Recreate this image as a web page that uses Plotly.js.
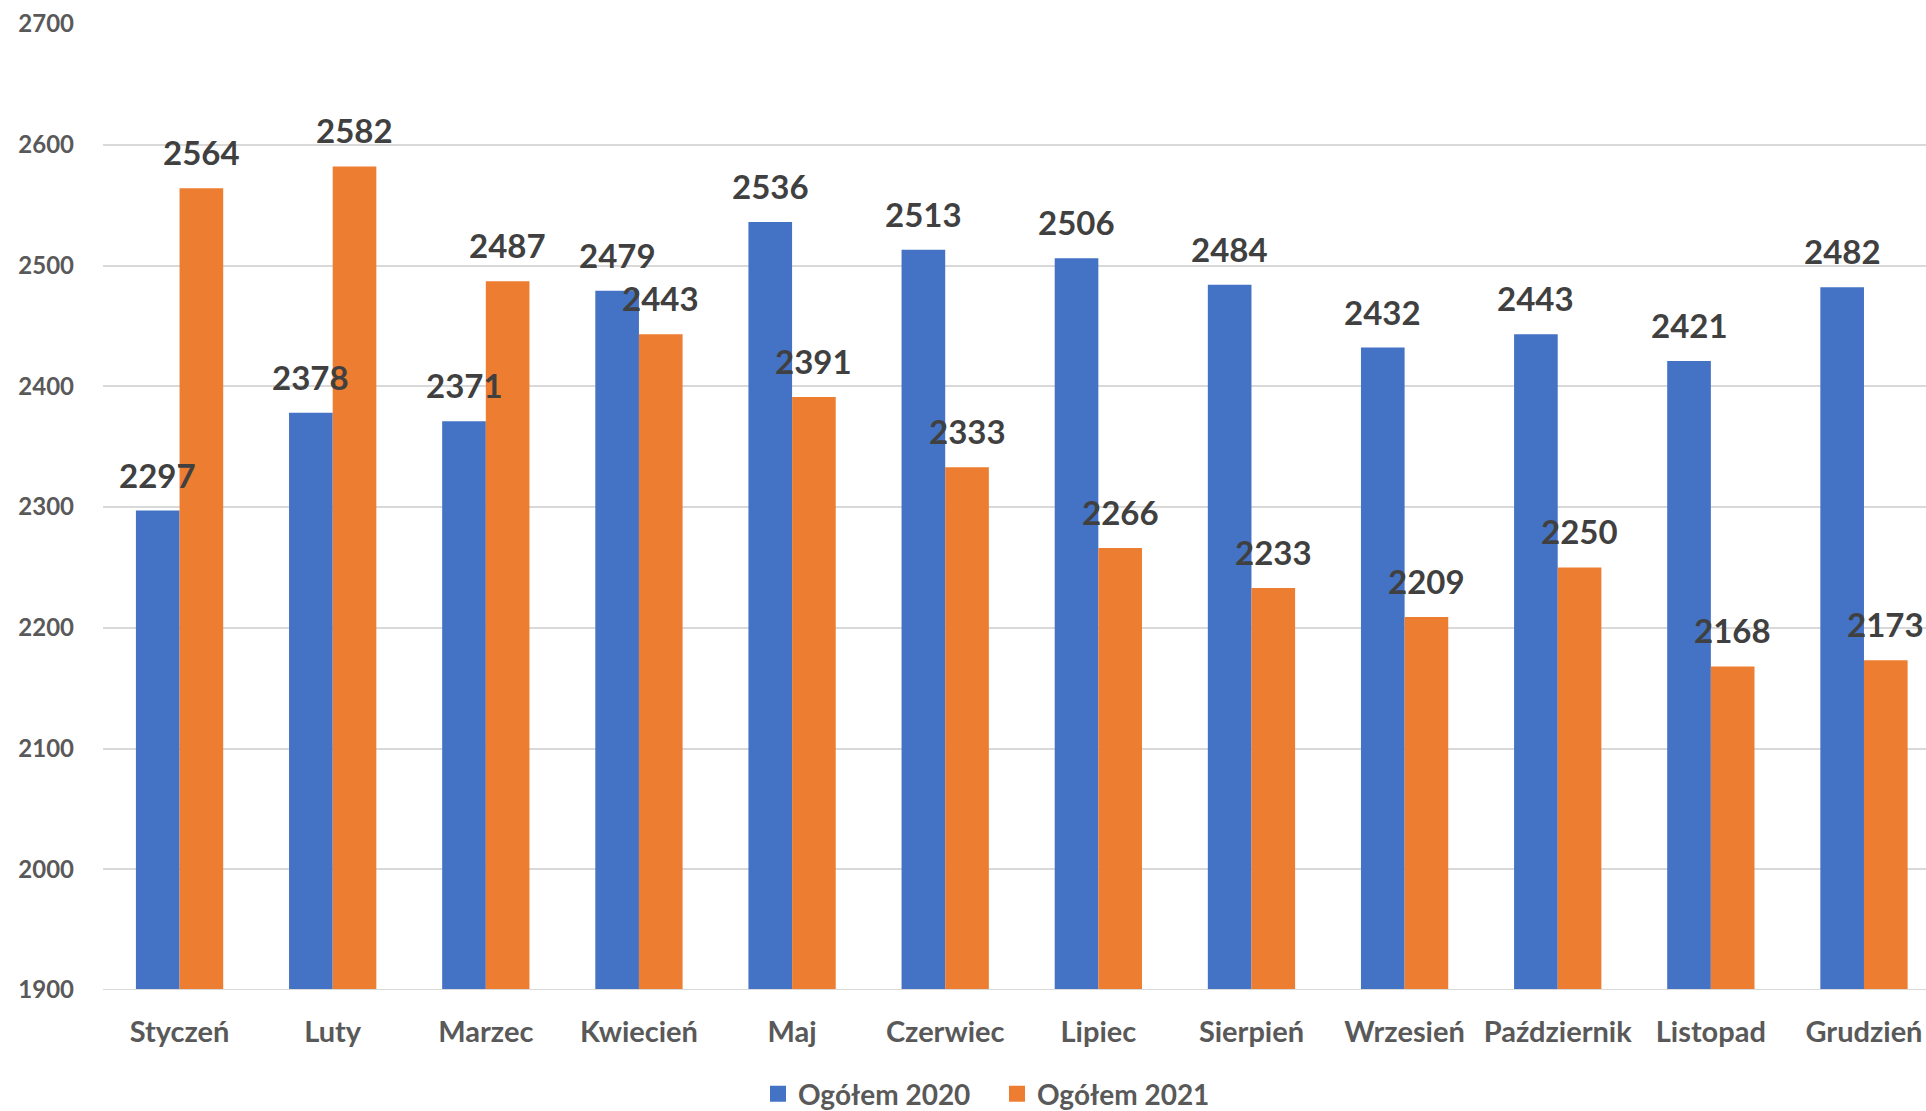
<!DOCTYPE html>
<html>
<head>
<meta charset="utf-8">
<script src="https://cdn.plot.ly/plotly-3.0.1.min.js"></script>
<style>html,body{margin:0;padding:0;background:#fff;}#chart{width:1926px;height:1111px;}</style>
</head>
<body>
<div id="chart"></div>
<script>
const months = ["Styczeń","Luty","Marzec","Kwiecień","Maj","Czerwiec","Lipiec","Sierpień","Wrzesień","Październik","Listopad","Grudzień"];
const values2020 = [2297,2378,2371,2479,2536,2513,2506,2484,2432,2443,2421,2482];
const values2021 = [2564,2582,2487,2443,2391,2333,2266,2233,2209,2250,2168,2173];
const seriesNames = ["Ogółem 2020","Ogółem 2021"];
const seriesColors = ['#4472C4','#ED7D31'];
const yTicks = [1900,2000,2100,2200,2300,2400,2500,2600,2700];

const FONT = "Lato, 'Open Sans', sans-serif";
const BAR_PX = 43.6;

const traces = [
  {type:'bar', name:seriesNames[0], x:months, y:values2020, marker:{color:seriesColors[0]}, hoverinfo:'x+y', showlegend:false},
  {type:'bar', name:seriesNames[1], x:months, y:values2021, marker:{color:seriesColors[1]}, hoverinfo:'x+y', showlegend:false},
  {type:'scatter', mode:'markers', name:seriesNames[0], x:[null], y:[null], marker:{symbol:'square', size:17, color:seriesColors[0]}, showlegend:true, hoverinfo:'skip'},
  {type:'scatter', mode:'markers', name:seriesNames[1], x:[null], y:[null], marker:{symbol:'square', size:17, color:seriesColors[1]}, showlegend:true, hoverinfo:'skip'}
];

const annotations = [];
months.forEach((m,i)=>{
  annotations.push({x:m, y:values2020[i], xref:'x', yref:'y', text:String(values2020[i]), showarrow:false,
    xanchor:'center', yanchor:'bottom', xshift:-BAR_PX/2, yshift:14,
    font:{family:FONT, size:33, color:'#404040', weight:'bold'}});
  annotations.push({x:m, y:values2021[i], xref:'x', yref:'y', text:String(values2021[i]), showarrow:false,
    xanchor:'center', yanchor:'bottom', xshift:BAR_PX/2, yshift:14,
    font:{family:FONT, size:33, color:'#404040', weight:'bold'}});
});

const layout = {
  width:1926, height:1111,
  margin:{l:103, r:0, t:24, b:121, autoexpand:false},
  paper_bgcolor:'#ffffff', plot_bgcolor:'#ffffff',
  barmode:'group', bargap:0.43, bargroupgap:0,
  font:{family:FONT, color:'#595959'},
  xaxis:{type:'category', range:[-0.5, 11.405], showgrid:false, zeroline:false, showline:false,
    ticks:'', tickfont:{family:FONT, size:29, color:'#595959', weight:'bold'}, ticklabelstandoff:22, fixedrange:true, automargin:false},
  yaxis:{range:[1900,2700], tickvals:yTicks, ticktext:yTicks.map(String), showgrid:true, gridcolor:'#d9d9d9', gridwidth:2,
    zeroline:false, showline:false, ticks:'', tickfont:{family:FONT, size:24, color:'#595959', weight:'bold'},
    ticklabelstandoff:28, fixedrange:true, automargin:false},
  showlegend:true,
  legend:{orientation:'h', x:0.3593, xanchor:'left', y:-0.1077, yanchor:'middle',
    font:{family:FONT, size:28, color:'#595959', weight:'bold'}, itemwidth:30, itemsizing:'trace',
    entrywidth:194, entrywidthmode:'pixels', traceorder:'normal', bgcolor:'rgba(0,0,0,0)'},
  annotations:annotations,
  shapes:[{type:'line', xref:'paper', yref:'y', x0:0, x1:1, y0:1900, y1:1900, line:{color:'#d9d9d9', width:2}}]
};

Plotly.newPlot('chart', traces, layout, {displayModeBar:false, responsive:false});
</script>
</body>
</html>
